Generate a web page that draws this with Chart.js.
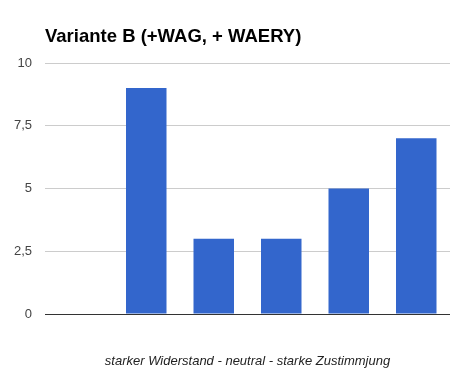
<!DOCTYPE html>
<html>
<head>
<meta charset="utf-8">
<script src="https://cdn.jsdelivr.net/npm/chart.js@4/dist/chart.umd.min.js"></script>
<style>
  html, body { margin: 0; padding: 0; background: #fff; }
  #wrap { width: 463px; height: 383px; position: relative; }
</style>
</head>
<body>
<div id="wrap"><canvas id="chart" width="463" height="383"></canvas></div>
<script>
const TITLE = "Variante B (+WAG, + WAERY)";
const X_TITLE = "starker Widerstand - neutral - starke Zustimmjung";
const CATEGORIES = ["1", "2", "3", "4", "5", "6"];
const VALUES = [0, 9, 3, 3, 5, 7];
const Y_TICKS = [0, 2.5, 5, 7.5, 10];

const FONT = '"Liberation Sans", Arial, sans-serif';

// title drawn at the plot's left edge, like the original
const titlePlugin = {
  id: "leftTitle",
  afterDraw(chart) {
    const ctx = chart.ctx;
    ctx.save();
    ctx.font = `bold 18.5px ${FONT}`;
    ctx.fillStyle = "#000";
    ctx.textBaseline = "alphabetic";
    ctx.textAlign = "left";
    ctx.fillText(TITLE, chart.chartArea.left, 42);
    ctx.restore();
  }
};

new Chart(document.getElementById("chart"), {
  type: "bar",
  data: {
    labels: CATEGORIES,
    datasets: [
      {
        data: VALUES,
        backgroundColor: "#3366cc",
        borderWidth: 0,
        barPercentage: 0.6,
        categoryPercentage: 1
      }
    ]
  },
  plugins: [titlePlugin],
  options: {
    responsive: false,
    animation: false,
    layout: { padding: { top: 63, right: 13, bottom: 14, left: 0 } },
    plugins: {
      legend: { display: false },
      tooltip: { enabled: false }
    },
    scales: {
      x: {
        grid: { display: false, drawTicks: false },
        border: { display: false },
        ticks: { display: false },
        title: {
          display: true,
          text: X_TITLE,
          color: "#222",
          font: { family: FONT, size: 13, style: "italic" },
          padding: 0
        },
        afterFit(scale) {
          scale.height = 55;
        }
      },
      y: {
        min: 0,
        max: 10,
        afterBuildTicks(scale) {
          scale.ticks = Y_TICKS.map((v) => ({ value: v }));
        },
        grid: {
          drawTicks: false,
          color: (c) => (c.tick && c.tick.value === 0 ? "#333" : "#ccc"),
          lineWidth: 1
        },
        border: { display: false },
        ticks: {
          padding: 13,
          color: "#444",
          font: { family: FONT, size: 13 },
          callback: (v) => String(v).replace(".", ",")
        },
        afterFit(scale) {
          scale.width = 45;
        }
      }
    }
  }
});
</script>
</body>
</html>
